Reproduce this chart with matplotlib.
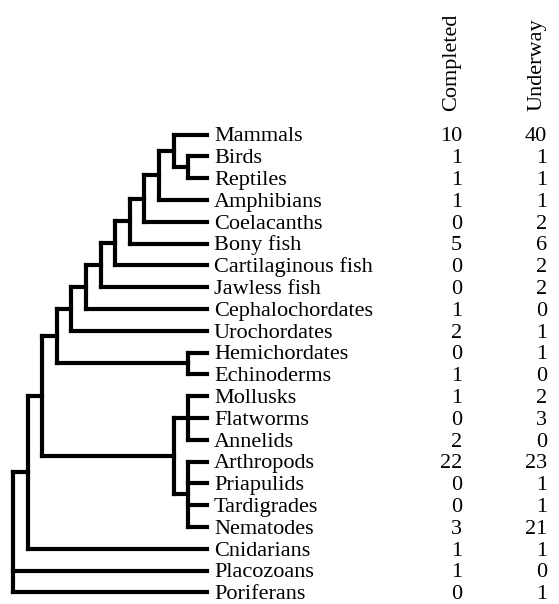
import matplotlib
matplotlib.use("Agg")
import matplotlib.pyplot as plt

# leaves, top to bottom
TAXA = [
    "Mammals", "Birds", "Reptiles", "Amphibians", "Coelacanths", "Bony fish",
    "Cartilaginous fish", "Jawless fish", "Cephalochordates", "Urochordates",
    "Hemichordates", "Echinoderms", "Mollusks", "Flatworms", "Annelids",
    "Arthropods", "Priapulids", "Tardigrades", "Nematodes", "Cnidarians",
    "Placozoans", "Poriferans",
]
COMPLETED = [10, 1, 1, 1, 0, 5, 0, 0, 1, 2, 0, 1, 1, 0, 2, 22, 0, 0, 3, 1, 1, 0]
UNDERWAY = [40, 1, 1, 1, 2, 6, 2, 2, 0, 1, 1, 0, 2, 3, 0, 23, 1, 1, 21, 1, 0, 1]
COLUMNS = ["Completed", "Underway"]

# topology (nested tuples, leaves as names)
amniotes = ("Mammals", ("Birds", "Reptiles"))
tetrapods = (amniotes, "Amphibians")
sarcopt = (tetrapods, "Coelacanths")
osteich = (sarcopt, "Bony fish")
gnatho = (osteich, "Cartilaginous fish")
verts = (gnatho, "Jawless fish")
olfact = (verts, "Cephalochordates")
chordates = (olfact, "Urochordates")
deutero = (chordates, ("Hemichordates", "Echinoderms"))
protos = (("Mollusks", "Flatworms", "Annelids"),
          ("Arthropods", "Priapulids", "Tardigrades", "Nematodes"))
bilateria = (deutero, protos)
eumetazoa = (bilateria, "Cnidarians")
TREE = (eumetazoa, "Placozoans", "Poriferans")

# page layout (pixels)
X0, XSTEP = 13, 14.6     # internal nodes, by height
LEAF_X = 207
Y0, YSTEP = 134.5, 21.8
LABEL_X = 214
COL_X = [462, 547]
FONT = "Liberation Serif"
FS = 16
LW = 3.0
BASE_OFF = 0.31 * FS * 100 / 72   # put the middle of the caps on the branch


def layout(node, leaves):
    if isinstance(node, str):
        leaves.append(node)
        return {"y": len(leaves) - 1, "h": 0, "kids": []}
    kids = [layout(c, leaves) for c in node]
    return {"y": (kids[0]["y"] + kids[-1]["y"]) / 2,
            "h": 1 + max(k["h"] for k in kids),
            "kids": kids}


leaves = []
root = layout(TREE, leaves)
assert leaves == TAXA
H = root["h"]


def px(n):
    if not n["kids"]:
        return LEAF_X
    return X0 + (H - n["h"]) * XSTEP


def py(y):
    return Y0 + y * YSTEP


fig = plt.figure(figsize=(5.59, 6.04), dpi=100)
ax = fig.add_axes([0, 0, 1, 1])
ax.set_xlim(0, 559)
ax.set_ylim(604, 0)
ax.axis("off")


def draw(n):
    if not n["kids"]:
        return
    xn = px(n)
    ys = [k["y"] for k in n["kids"]]
    ax.plot([xn, xn], [py(min(ys)), py(max(ys))], color="black", lw=LW,
            solid_capstyle="projecting")
    for k in n["kids"]:
        ax.plot([xn, px(k)], [py(k["y"]), py(k["y"])], color="black", lw=LW,
                solid_capstyle="projecting")
        draw(k)


draw(root)

for i, name in enumerate(TAXA):
    yb = py(i) + BASE_OFF
    ax.text(LABEL_X, yb, name, ha="left", va="baseline", family=FONT, fontsize=FS)
    for cx, vals in zip(COL_X, [COMPLETED, UNDERWAY]):
        ax.text(cx, yb, str(vals[i]), ha="right", va="baseline", family=FONT, fontsize=FS)

for cx, head in zip(COL_X, COLUMNS):
    ax.text(cx - 10, 111, head, rotation=90, ha="center", va="bottom",
            family=FONT, fontsize=FS)

fig.savefig("out.png", dpi=100)
